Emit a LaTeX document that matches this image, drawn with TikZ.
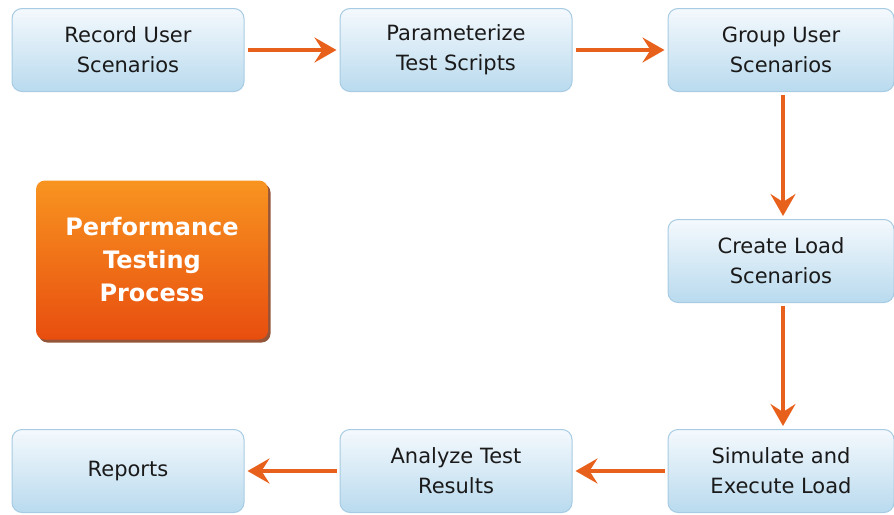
\documentclass[tikz,border=0pt]{standalone}
\usepackage{fontspec}
\setmainfont{DejaVu Sans}
\usetikzlibrary{positioning}
\usetikzlibrary{arrows.meta}
\usetikzlibrary{shadows}

\definecolor{boxtop}{HTML}{F4F9FD}
\definecolor{boxbottom}{HTML}{B9DAEE}
\definecolor{boxline}{HTML}{A6CBE3}
\definecolor{titletop}{HTML}{F89420}
\definecolor{titlebottom}{HTML}{E84E0F}
\definecolor{titleshadow}{HTML}{7A2A08}
\definecolor{flow}{HTML}{E8611C}
\definecolor{boxtext}{HTML}{1A1A1A}

\begin{document}
\begin{tikzpicture}[x=1pt,y=-1pt]
					\tikzstyle{stepbox}=[rectangle, rounded corners=10pt, draw=boxline, line width=1pt, top color=boxtop, bottom color=boxbottom, minimum width=232pt, minimum height=83pt, align=center, text=boxtext, font=\fontsize{21}{30}\selectfont]
					\tikzstyle{lastcol}=[stepbox, minimum width=226pt]
					\tikzstyle{titlebox}=[rectangle, rounded corners=9pt, top color=titletop, bottom color=titlebottom, minimum width=232pt, minimum height=159pt, align=center, text=white, font=\fontsize{24}{33}\bfseries\selectfont, drop shadow={shadow xshift=2.5pt, shadow yshift=-3pt, fill=titleshadow, opacity=0.8}]
					\tikzstyle{flowarrow}=[draw=flow, line width=4pt, -{Stealth[length=22pt, width=25pt, inset=8pt]}, shorten >=3pt, shorten <=3pt]

					\useasboundingbox (0,0) rectangle (894,514);

					\node[stepbox] (record) at (128,50) {Record User\\Scenarios};
					\node[stepbox] (param) at (456,50) {Parameterize\\Test Scripts};
					\node[lastcol] (group) at (781,50) {Group User\\Scenarios};
					\node[lastcol] (load) at (781,261) {Create Load\\Scenarios};
					\node[lastcol] (simulate) at (781,471) {Simulate and\\Execute Load};
					\node[stepbox] (analyze) at (456,471) {Analyze Test\\Results};
					\node[stepbox] (reports) at (128,471) {Reports};

					\node[titlebox] (title) at (152,260) {Performance\\Testing\\Process};

					\draw[flowarrow] (record) -- (param);
					\draw[flowarrow] (param) -- (group);
					\draw[flowarrow] (group.south -| 783,0) -- (load.north -| 783,0);
					\draw[flowarrow] (load.south -| 783,0) -- (simulate.north -| 783,0);
					\draw[flowarrow] (simulate) -- (analyze);
					\draw[flowarrow] (analyze) -- (reports);
\end{tikzpicture}
\end{document}
